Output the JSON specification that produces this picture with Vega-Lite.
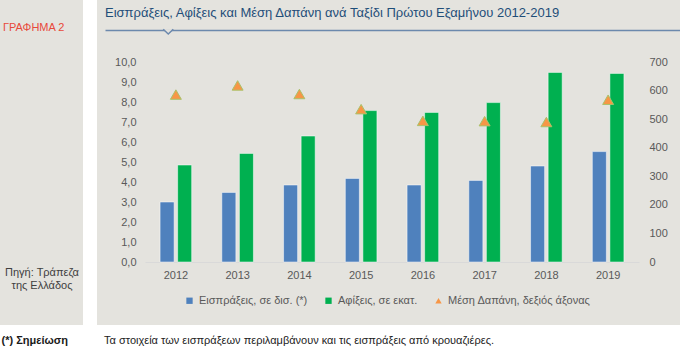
{
  "$schema": "https://vega.github.io/schema/vega-lite/v6.json",
  "background": "#ffffff",
  "padding": 0,
  "spacing": 3,
  "config": {
    "font": "Liberation Sans",
    "view": {"stroke": null, "fill": "#e4e3de"},
    "title": {"font": "Liberation Sans", "fontWeight": "normal"}
  },
  "datasets": {
    "bars": [
      {"year": "2012", "series": "Εισπράξεις, σε δισ. (*)", "value": 3.0},
      {"year": "2013", "series": "Εισπράξεις, σε δισ. (*)", "value": 3.48},
      {"year": "2014", "series": "Εισπράξεις, σε δισ. (*)", "value": 3.85},
      {"year": "2015", "series": "Εισπράξεις, σε δισ. (*)", "value": 4.18},
      {"year": "2016", "series": "Εισπράξεις, σε δισ. (*)", "value": 3.85},
      {"year": "2017", "series": "Εισπράξεις, σε δισ. (*)", "value": 4.08},
      {"year": "2018", "series": "Εισπράξεις, σε δισ. (*)", "value": 4.8},
      {"year": "2019", "series": "Εισπράξεις, σε δισ. (*)", "value": 5.52},
      {"year": "2012", "series": "Αφίξεις, σε εκατ.", "value": 4.85},
      {"year": "2013", "series": "Αφίξεις, σε εκατ.", "value": 5.43},
      {"year": "2014", "series": "Αφίξεις, σε εκατ.", "value": 6.3},
      {"year": "2015", "series": "Αφίξεις, σε εκατ.", "value": 7.57},
      {"year": "2016", "series": "Αφίξεις, σε εκατ.", "value": 7.48},
      {"year": "2017", "series": "Αφίξεις, σε εκατ.", "value": 7.97},
      {"year": "2018", "series": "Αφίξεις, σε εκατ.", "value": 9.48},
      {"year": "2019", "series": "Αφίξεις, σε εκατ.", "value": 9.43}
    ],
    "avg": [
      {"year": "2012", "series": "Μέση  Δαπάνη, δεξιός άξονας", "value": 586},
      {"year": "2013", "series": "Μέση  Δαπάνη, δεξιός άξονας", "value": 618},
      {"year": "2014", "series": "Μέση  Δαπάνη, δεξιός άξονας", "value": 588},
      {"year": "2015", "series": "Μέση  Δαπάνη, δεξιός άξονας", "value": 535},
      {"year": "2016", "series": "Μέση  Δαπάνη, δεξιός άξονας", "value": 494},
      {"year": "2017", "series": "Μέση  Δαπάνη, δεξιός άξονας", "value": 493},
      {"year": "2018", "series": "Μέση  Δαπάνη, δεξιός άξονας", "value": 490},
      {"year": "2019", "series": "Μέση  Δαπάνη, δεξιός άξονας", "value": 568}
    ]
  },
  "vconcat": [
    {
      "spacing": 14,
      "hconcat": [
        {
          "width": 83, "height": 325,
          "data": {"values": []},
          "mark": "point",
          "title": {"text": "ΓΡΑΦΗΜΑ 2", "anchor": "start", "orient": "top", "frame": "group", "offset": -42, "dx": 3, "baseline": "alphabetic", "color": "#e8483a", "fontSize": 11},
          "encoding": {
            "x": {"datum": 0, "type": "quantitative", "scale": {"domain": [0, 1]},
                  "axis": {"orient": "bottom", "offset": -63, "domain": false, "ticks": false, "labels": false, "grid": false,
                           "title": ["Πηγή: Τράπεζα", "της Ελλάδος"], "titlePadding": 4, "titleFont": "Liberation Sans", "titleFontSize": 11, "titleFontWeight": "normal", "titleColor": "#404040", "titleLineHeight": 13.5}}
          }
        },
        {
          "width": 583, "height": 325,
          "title": {"text": "Εισπράξεις, Αφίξεις και Μέση Δαπάνη ανά Ταξίδι Πρώτου Εξαμήνου 2012-2019", "anchor": "start", "orient": "top", "frame": "group", "offset": -29.5, "dx": 8, "baseline": "alphabetic", "color": "#1f4e79", "fontSize": 13},
          "layer": [
            {
              "data": {"name": "bars"},
              "mark": {"type": "bar", "stroke": "#ffffff", "strokeOpacity": 0.5, "strokeWidth": 1},
              "encoding": {
                "x": {"field": "year", "type": "nominal",
                      "scale": {"range": [48, 542], "paddingInner": 0.488, "paddingOuter": 0.244},
                      "axis": {"title": null, "labelAngle": 0, "ticks": false, "domain": true, "domainColor": "#d9d9d9", "grid": false, "labelPadding": 7, "labelFontSize": 11, "labelColor": "#595959", "offset": -63}},
                "xOffset": {"field": "series", "type": "nominal", "sort": null,
                            "scale": {"domain": ["Εισπράξεις, σε δισ. (*)", "Αφίξεις, σε εκατ."], "paddingInner": 0.2, "paddingOuter": 0}},
                "y": {"field": "value", "type": "quantitative",
                      "scale": {"domain": [0, 10], "nice": false, "range": [262, 62]},
                      "axis": {"orient": "left", "offset": -48, "title": null, "values": [0, 1, 2, 3, 4, 5, 6, 7, 8, 9, 10], "labelExpr": "replace(format(datum.value, '.1f'), '.', ',')", "domain": false, "ticks": false, "grid": false, "labelPadding": 9, "labelFontSize": 11, "labelColor": "#595959"}},
                "color": {"field": "series", "type": "nominal",
                          "scale": {"domain": ["Εισπράξεις, σε δισ. (*)", "Αφίξεις, σε εκατ.", "Μέση  Δαπάνη, δεξιός άξονας"], "range": ["#4f81bd", "#00b050", "#f79646"]},
                          "legend": {"title": null, "orient": "none", "legendX": 184, "legendY": 295, "direction": "horizontal", "columnPadding": 15, "symbolSize": 40, "symbolStrokeWidth": 0, "labelFontSize": 11, "labelColor": "#595959", "labelOffset": 4}}
              }
            },
            {
              "data": {"name": "avg"},
              "mark": {"type": "point", "filled": true, "size": 120, "stroke": "#a9c26a", "strokeWidth": 1, "opacity": 1},
              "encoding": {
                "x": {"field": "year", "type": "nominal",
                      "scale": {"range": [48, 542], "paddingInner": 0.488, "paddingOuter": 0.244},
                      "axis": null},
                "y": {"field": "value", "type": "quantitative",
                      "scale": {"domain": [0, 700], "nice": false, "range": [262, 62]},
                      "axis": {"orient": "right", "offset": -41, "title": null, "values": [0, 100, 200, 300, 400, 500, 600, 700], "format": "d", "domain": false, "ticks": false, "grid": false, "labelPadding": 10, "labelFontSize": 11, "labelColor": "#595959"}},
                "color": {"field": "series", "type": "nominal",
                          "scale": {"domain": ["Εισπράξεις, σε δισ. (*)", "Αφίξεις, σε εκατ.", "Μέση  Δαπάνη, δεξιός άξονας"], "range": ["#4f81bd", "#00b050", "#f79646"]},
                          "legend": {"title": null, "orient": "none", "legendX": 184, "legendY": 295, "direction": "horizontal", "columnPadding": 15, "symbolSize": 40, "symbolStrokeWidth": 0, "labelFontSize": 11, "labelColor": "#595959", "labelOffset": 4}},
                "shape": {"field": "series", "type": "nominal",
                          "scale": {"domain": ["Εισπράξεις, σε δισ. (*)", "Αφίξεις, σε εκατ.", "Μέση  Δαπάνη, δεξιός άξονας"], "range": ["square", "square", "triangle-up"]},
                          "legend": {"title": null, "orient": "none", "legendX": 184, "legendY": 295, "direction": "horizontal", "columnPadding": 15, "symbolSize": 40, "symbolStrokeWidth": 0, "labelFontSize": 11, "labelColor": "#595959", "labelOffset": 4}}
              }
            },
            {
              "data": {"values": [{}]},
              "mark": {"type": "point", "shape": "M-1,-0.15L0,0.8L1,-0.15", "size": 100, "filled": true, "fill": "#e4e3de", "stroke": "#6c89ad", "strokeWidth": 1.5, "opacity": 1},
              "encoding": {
                "x": {"datum": 0.11, "type": "quantitative", "scale": {"domain": [0, 1], "range": [8, 583]},
                      "axis": {"orient": "top", "offset": -30, "domain": true, "domainColor": "#6c89ad", "domainWidth": 1.5, "ticks": false, "labels": false, "grid": false, "title": null}},
                "y": {"datum": 0, "type": "quantitative", "scale": {"domain": [0, 1], "range": [30, 0]}, "axis": null}
              }
            }
          ],
          "resolve": {"scale": {"x": "independent", "y": "independent"}}
        }
      ]
    },
    {
      "spacing": 14,
      "hconcat": [
        {
          "width": 83, "height": 35,
          "data": {"values": []},
          "mark": "point",
          "title": {"text": "(*) Σημείωση", "anchor": "end", "orient": "top", "frame": "group", "offset": -23.5, "dx": -15, "baseline": "middle", "color": "#1a1a1a", "fontSize": 11, "fontWeight": "bold"}
        },
        {
          "width": 583, "height": 35,
          "data": {"values": []},
          "mark": "point",
          "title": {"text": "Τα στοιχεία των εισπράξεων περιλαμβάνουν και τις εισπράξεις από κρουαζιέρες.", "anchor": "start", "orient": "top", "frame": "group", "offset": -23.5, "dx": 7, "baseline": "middle", "color": "#222222", "fontSize": 11}
        }
      ]
    }
  ]
}
